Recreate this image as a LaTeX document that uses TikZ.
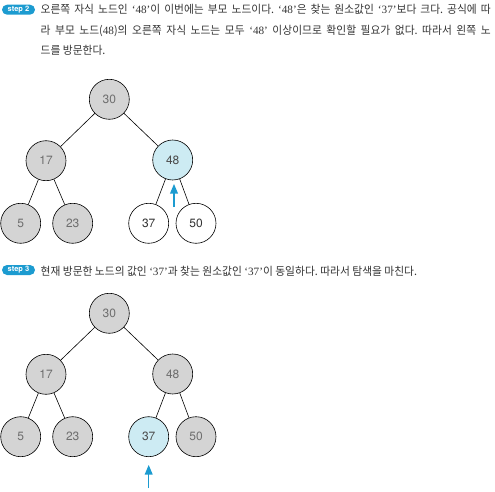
\documentclass[tikz,border=0pt]{standalone}
\usepackage{fontspec}
\setmainfont{TeX Gyre Heros}
\newfontfamily\kr[FakeStretch=0.96]{Noto Sans CJK KR}
\newfontfamily\lat{Liberation Serif}
\newcommand\qt[1]{{\lat‘#1’}}
\frenchspacing
\usetikzlibrary{arrows}
\definecolor{stepblue}{HTML}{1C9BD0}
\definecolor{visitgray}{HTML}{D4D4D4}
\definecolor{curblue}{HTML}{CDEBF3}
\definecolor{numgray}{HTML}{6E6E6E}
\definecolor{txtgray}{HTML}{333333}
\tikzset{
gnode/.style={draw,circle,fill=visitgray,minimum size=40pt,inner sep=0pt,line width=0.6pt,text=numgray,font=\fontsize{12}{12}\selectfont},
bnode/.style={gnode,fill=curblue,text=black!70},
wnode/.style={gnode,fill=white,text=black!80},
edge/.style={line width=0.6pt},
pointer/.style={-triangle 45,line width=1.2pt,draw=stepblue},
stepbadge/.style={fill=stepblue,text=white,rounded corners=5pt,minimum width=33pt,minimum height=10pt,inner sep=0pt,font=\fontsize{7.5}{7.5}\selectfont\bfseries},
textline/.style={anchor=base west,inner sep=0pt,text=txtgray,font=\kr\fontsize{11.2}{21}\selectfont}
}
\begin{document}
\begin{tikzpicture}[x=1pt,y=-1pt]
\useasboundingbox (0,0) rectangle (495,492);
%%% step 2 text
\node[stepbadge](s2) at (18.5,9.7){step 2};
\node[textline](l1) at (40.5,14){\makebox[450pt][s]{오른쪽 자식 노드인 \qt{48}이 이번에는 부모 노드이다. \qt{48}은 찾는 원소값인 \qt{37}보다 크다. 공식에 따}};
\node[textline](l2) at (40.5,34.5){\makebox[450pt][s]{라 부모 노드({\lat 48})의 오른쪽 자식 노드는 모두 \qt{48} 이상이므로 확인할 필요가 없다. 따라서 왼쪽 노}};
\node[textline](l3) at (40.5,55){드를 방문한다.};
%%% first tree
\draw
(109.3,99.3) node[gnode](r1){30}
(46,160.7) node[gnode](a1){17}
(172.7,160) node[bnode](b1){48}
(20.7,223.3) node[gnode](c1){5}
(72.7,223.3) node[gnode](d1){23}
(148.7,223.3) node[wnode](e1){37}
(196,223.3) node[wnode](f1){50}
;
\foreach \x/\y in {r1/a1, r1/b1, a1/c1, a1/d1, b1/e1, b1/f1}{
\draw[edge](\x) -- (\y);
}
\coordinate (p1) at (174,207);
\coordinate (t1) at (174,184);
\draw[pointer](p1) -- (t1);
%%% step 3 text
\node[stepbadge](s3) at (18.5,270){step 3};
\node[textline](l4) at (40.5,275){현재 방문한 노드의 값인 \qt{37}과 찾는 원소값인 \qt{37}이 동일하다. 따라서 탐색을 마친다.};
%%% second tree
\draw
(109.3,313.3) node[gnode](r2){30}
(46,374.3) node[gnode](a2){17}
(172.7,374) node[gnode](b2){48}
(20.7,436.7) node[gnode](c2){5}
(72.7,436.7) node[gnode](d2){23}
(148.7,436.7) node[bnode](e2){37}
(196,436.7) node[gnode](f2){50}
;
\foreach \x/\y in {r2/a2, r2/b2, a2/c2, a2/d2, b2/e2, b2/f2}{
\draw[edge](\x) -- (\y);
}
\coordinate (p2) at (148.7,488);
\coordinate (t2) at (148.7,465);
\draw[pointer](p2) -- (t2);
\end{tikzpicture}
\end{document}
